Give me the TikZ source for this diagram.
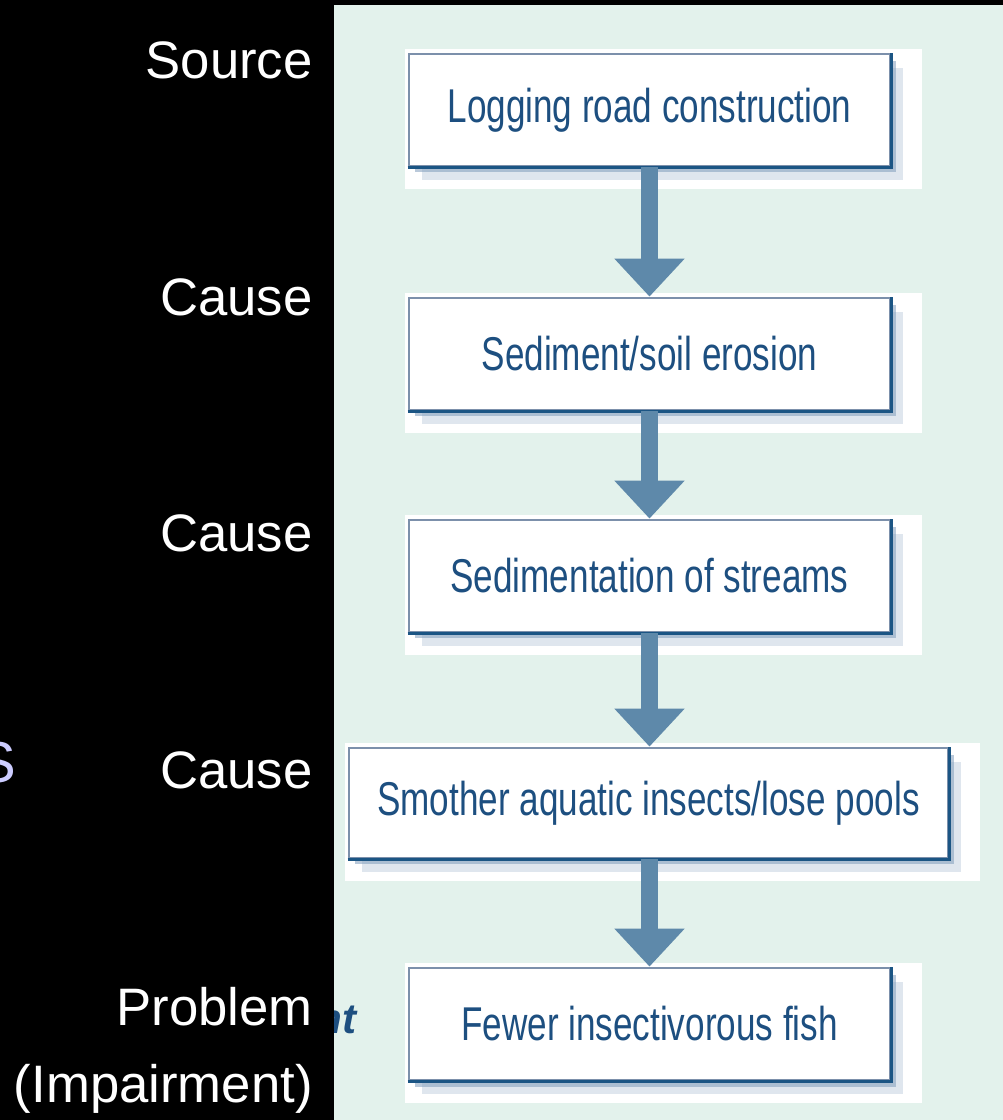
\documentclass[tikz,border=0pt]{standalone}
\usepackage{fontspec}
\setmainfont{Liberation Sans}
\newfontfamily\narrowfont[FakeStretch=0.74]{Liberation Sans}
\usetikzlibrary{positioning, arrows.meta, shadows, backgrounds}

\definecolor{panelgreen}{RGB}{227,242,236}
\definecolor{boxline}{RGB}{124,144,171}
\definecolor{boxdark}{RGB}{27,85,132}
\definecolor{boxtext}{RGB}{29,79,128}
\definecolor{arrowblue}{RGB}{94,137,170}
\definecolor{shadowblue}{RGB}{130,158,188}
\definecolor{lavender}{RGB}{204,204,255}

\begin{document}
\begin{tikzpicture}[x=0.02cm, y=-0.02cm,
    chain/.style={rectangle, draw=boxline, line width=1.6pt, fill=white,
      minimum width=9.62cm, minimum height=2.24cm, text=boxtext,
      font=\narrowfont\fontsize{27}{30}\selectfont,
      drop shadow={shadow xshift=0.26cm, shadow yshift=-0.28cm, fill=shadowblue, opacity=0.25},
      drop shadow={shadow xshift=0.12cm, shadow yshift=-0.13cm, fill=shadowblue, opacity=0.55}},
    tag/.style={anchor=base east, text=white, inner sep=0pt, font=\fontsize{30}{36}\selectfont},
    flow/.style={arrowblue, line width=0.34cm, -{Triangle[width=1.36cm, length=0.76cm]}}]
  \useasboundingbox (0,0) rectangle (1003,1120);

  % steps of the chain
  \node[chain] (log) at (649.5,110) {Logging road construction};
  \node[chain] (soil) at (649.5,354) {Sediment/soil erosion};
  \node[chain] (sed) at (649.5,576) {Sedimentation of streams};
  \node[chain, minimum width=11.98cm, minimum height=2.2cm] (smo) at (648.5,803) {Smother aquatic insects/lose pools};
  \node[chain] (fish) at (649.5,1024) {Fewer insectivorous fish};

  \foreach \b in {log,soil,sed,smo,fish}
    \draw[boxdark, line width=1.6pt] (\b.south west) -- (\b.south east) -- (\b.north east);

  \draw[flow] (log.south) -- (soil.north);
  \draw[flow] (soil.south) -- (sed.north);
  \draw[flow] (sed.south) -- (sed.south |- smo.north);
  \draw[flow] (fish.north |- smo.south) -- (fish.north);

  % labels on the left
  \node[tag] (src) at (313,78) {Source};
  \node[tag] (cs1) at (313,315) {Cause};
  \node[tag] (cs2) at (313,551) {Cause};
  \node[tag] (cs3) at (313,788) {Cause};
  \node[tag] (prb) at (313,1025) {Problem};
  \node[tag] (imp) at (313,1102) {(Impairment)};

  % cut-off fragments
  \begin{scope}
    \clip (0,0) rectangle (334,1120);
    \node[anchor=base east, inner sep=0pt, text=lavender, font=\fontsize{33}{36}\selectfont] (frag) at (17,782) {S};
  \end{scope}
  \begin{scope}
    \clip (334,5) rectangle (1003,1120);
    \node[anchor=base east, inner sep=0pt, text=boxtext, font=\bfseries\itshape\fontsize{24}{28}\selectfont] (frag2) at (357,1033) {nt};
  \end{scope}

  \begin{scope}[on background layer]
    \fill[black] (0,0) rectangle (1003,1120);
    \fill[panelgreen] (334,5) rectangle (1003,1120);
    \foreach \b in {log,soil,sed,smo,fish}
      \fill[white] ([shift={(-3,-4)}]\b.north west) rectangle ([shift={(31,22)}]\b.south east);
  \end{scope}
\end{tikzpicture}
\end{document}
